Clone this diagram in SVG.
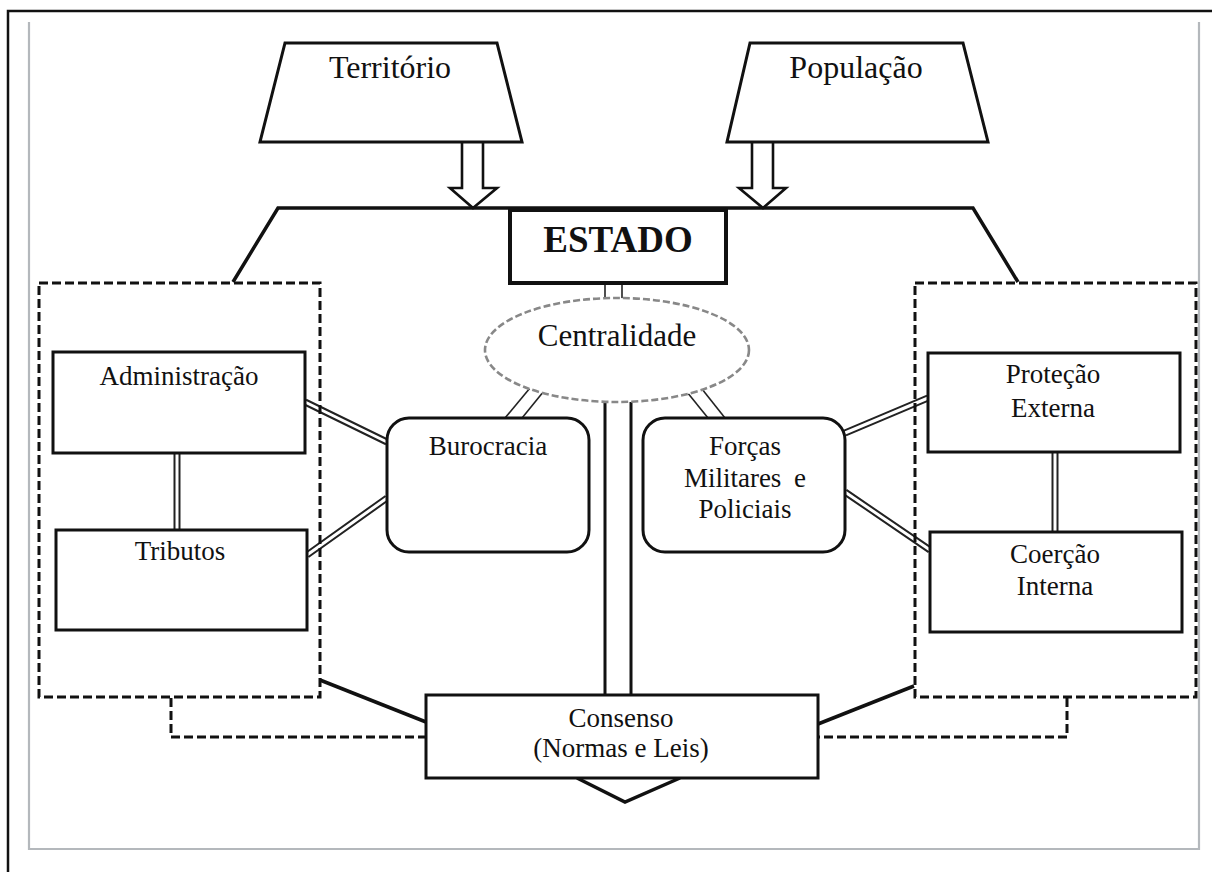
<svg xmlns="http://www.w3.org/2000/svg" width="1212" height="872" viewBox="0 0 1212 872">
<style>
text{font-family:"Liberation Serif","Times New Roman",serif;fill:#111;text-anchor:middle}
.t27{font-size:27px}
.box{fill:#fff;stroke:#111;stroke-width:3}
.dash{fill:none;stroke:#111;stroke-width:3;stroke-dasharray:9 4}
.solid{fill:none;stroke:#111;stroke-width:3.5}
.thin{fill:none;stroke:#222;stroke-width:1.6}
.dblo{fill:none;stroke:#222;stroke-width:7}
.dbli{fill:none;stroke:#fff;stroke-width:3}
</style>
<rect width="1212" height="872" fill="#fff"/>
<path d="M8,872 V11 H1212" fill="none" stroke="#111" stroke-width="2.5"/>
<path d="M29,22 V849 H1199 V22" fill="none" stroke="#b4b8bc" stroke-width="2.2"/>

<g id="connectors">
  <path class="solid" d="M233,282 L278,208 H973 L1018,282"/>
  <path class="solid" d="M320,680 L426,722"/>
  <path class="solid" d="M914,686 L818,724"/>
  <path class="dash" d="M171,698 V737 H426"/>
  <path class="dash" d="M1067,698 V737 H818"/>
  <path class="solid" d="M577,778 L625,802 L680,778"/>
  <line x1="605" y1="402" x2="605" y2="695" stroke="#111" stroke-width="3"/>
  <line x1="631" y1="402" x2="631" y2="695" stroke="#111" stroke-width="3"/>
  <line class="thin" x1="605" y1="284" x2="605" y2="299"/>
  <line class="thin" x1="622" y1="284" x2="622" y2="299"/>
  <line class="thin" x1="505" y1="418" x2="530" y2="388"/>
  <line class="thin" x1="522" y1="418" x2="544" y2="391"/>
  <line class="thin" x1="687" y1="392" x2="708" y2="418"/>
  <line class="thin" x1="702" y1="389" x2="725" y2="418"/>
  <path class="dblo" d="M305,402 L387,442 M307,555 L387,498 M845,433 L928,398 M845,492 L930,550 M177,453 V530 M1055,452 V532"/>
  <path class="dbli" d="M305,402 L387,442 M307,555 L387,498 M845,433 L928,398 M845,492 L930,550 M177,453 V530 M1055,452 V532"/>
  <path d="M462,142 V188 H450 L473,208 L497,188 H483 V142" fill="#fff" stroke="#111" stroke-width="2.6" stroke-linejoin="miter"/>
  <path d="M752,142 V188 H739 L763,208 L786,188 H773 V142" fill="#fff" stroke="#111" stroke-width="2.6" stroke-linejoin="miter"/>
</g>

<g id="territorio">
  <path class="box" d="M285,43 H497 L522,142 H260 Z"/>
  <text x="390" y="78" font-size="32">Território</text>
</g>
<g id="populacao">
  <path class="box" d="M750,43 H963 L988,142 H727 Z"/>
  <text x="856" y="78" font-size="32">População</text>
</g>
<g id="estado">
  <rect x="510" y="210" width="216" height="73" fill="#fff" stroke="#111" stroke-width="4"/>
  <text x="618" y="252" font-size="37" font-weight="bold">ESTADO</text>
</g>
<g id="centralidade">
  <ellipse cx="617" cy="350" rx="132" ry="52" fill="#fff" stroke="#888" stroke-width="2.6" stroke-dasharray="7 3"/>
  <text x="617" y="346" font-size="31">Centralidade</text>
</g>
<g id="grupo-esquerdo">
  <rect class="dash" x="39" y="283" width="281" height="414"/>
</g>
<g id="grupo-direito">
  <rect class="dash" x="915" y="283" width="281" height="414"/>
</g>
<g id="administracao">
  <rect class="box" x="53" y="352" width="252" height="101"/>
  <text class="t27" x="179" y="385">Administração</text>
</g>
<g id="tributos">
  <rect class="box" x="56" y="530" width="251" height="100"/>
  <text class="t27" x="180" y="560">Tributos</text>
</g>
<g id="burocracia">
  <rect class="box" x="387" y="418" width="202" height="134" rx="22"/>
  <text class="t27" x="488" y="455">Burocracia</text>
</g>
<g id="forcas">
  <rect class="box" x="643" y="418" width="202" height="134" rx="22"/>
  <text class="t27" x="745" y="455">Forças</text>
  <text class="t27" x="745" y="487" word-spacing="6">Militares e</text>
  <text class="t27" x="745" y="518">Policiais</text>
</g>
<g id="protecao">
  <rect class="box" x="928" y="353" width="252" height="99"/>
  <text class="t27" x="1053" y="383">Proteção</text>
  <text class="t27" x="1053" y="417">Externa</text>
</g>
<g id="coercao">
  <rect class="box" x="930" y="532" width="252" height="100"/>
  <text class="t27" x="1055" y="563">Coerção</text>
  <text class="t27" x="1055" y="595">Interna</text>
</g>
<g id="consenso">
  <rect class="box" x="426" y="695" width="392" height="83"/>
  <text class="t27" x="621" y="727">Consenso</text>
  <text class="t27" x="621" y="757">(Normas e Leis)</text>
</g>
</svg>
